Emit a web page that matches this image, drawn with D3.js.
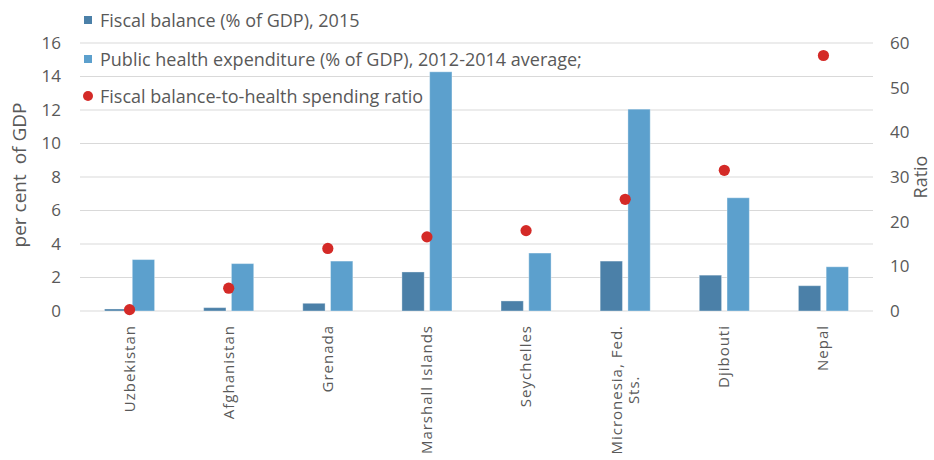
<!DOCTYPE html>
<html>
<head>
<meta charset="utf-8">
<script src="https://cdn.jsdelivr.net/npm/d3@7"></script>
<style>
  html, body { margin: 0; padding: 0; background: #fff; }
  svg { display: block; font-family: "Open Sans", "DejaVu Sans", sans-serif; }
</style>
</head>
<body>
<svg id="chart" width="934" height="460"></svg>
<script>
// Countries (x categories); "\n" splits a label onto a second line
const countries = ["Uzbekistan", "Afghanistan", "Grenada", "Marshall Islands",
  "Seychelles", "Micronesia, Fed.\nSts.", "Djibouti", "Nepal"];
// Fiscal balance (% of GDP), 2015
const fiscalBalance = [0.12, 0.2, 0.46, 2.33, 0.6, 2.98, 2.14, 1.51];
// Public health expenditure (% of GDP), 2012-2014 average
const healthSpending = [3.07, 2.83, 2.98, 14.28, 3.46, 12.05, 6.76, 2.64];
// Fiscal balance-to-health spending ratio (right axis)
const ratio = [0.3, 5.1, 14.0, 16.6, 18.0, 25.0, 31.5, 57.2];

const leftTicks = [0, 2, 4, 6, 8, 10, 12, 14, 16];
const rightTicks = [0, 10, 20, 30, 40, 50, 60];

const legendLabels = [
  "Fiscal balance (% of GDP), 2015",
  "Public health expenditure (% of GDP), 2012-2014 average;",
  "Fiscal balance-to-health spending ratio"
];

const colDark = "#4b80a8", colLight = "#5ca0cd", colRed = "#d42a27";
const textCol = "#595959", gridCol = "#d9d9d9";

const svg = d3.select("#chart");
const plot = { left: 80, right: 873, top: 43, bottom: 311 };

const x = d3.scaleBand().domain(countries).range([plot.left, plot.right]);
const yL = d3.scaleLinear().domain([0, 16]).range([plot.bottom, plot.top]);
const yR = d3.scaleLinear().domain([0, 60]).range([plot.bottom, plot.top]);

// horizontal gridlines on the left-axis ticks
svg.append("g").selectAll("line").data(leftTicks).join("line")
  .attr("x1", plot.left).attr("x2", plot.right)
  .attr("y1", d => yL(d)).attr("y2", d => yL(d))
  .attr("stroke", gridCol).attr("stroke-width", 1.2);

// left axis labels
const axL = svg.append("g").attr("transform", `translate(${plot.left},0)`)
  .call(d3.axisLeft(yL).tickValues(leftTicks).tickSize(0).tickPadding(19));
axL.select(".domain").remove();
axL.selectAll("text").attr("fill", textCol).style("font-size", "17px")
  .style("font-family", "'Open Sans', sans-serif");

// right axis labels
const axR = svg.append("g").attr("transform", `translate(${plot.right},0)`)
  .call(d3.axisRight(yR).tickValues(rightTicks).tickSize(0).tickPadding(17));
axR.select(".domain").remove();
axR.selectAll("text").attr("fill", textCol).style("font-size", "17px")
  .style("font-family", "'Open Sans', sans-serif");

// axis titles
svg.append("text").attr("transform", "translate(26,175) rotate(-90)")
  .attr("text-anchor", "middle").attr("fill", textCol).style("font-size", "19px")
  .style("white-space", "pre")
  .text("per cent  of GDP");
svg.append("text").attr("transform", "translate(927,177) rotate(-90)")
  .attr("text-anchor", "middle").attr("fill", textCol).style("font-size", "18px")
  .text("Ratio");

// bars
const barW = 0.225 * x.bandwidth();
const gap = 0.055 * x.bandwidth();
const cx = d => x(d) + x.bandwidth() / 2;

svg.append("g").selectAll("rect").data(countries).join("rect")
  .attr("x", (d, i) => cx(d) - gap / 2 - barW)
  .attr("width", barW)
  .attr("y", (d, i) => yL(fiscalBalance[i]))
  .attr("height", (d, i) => yL(0) - yL(fiscalBalance[i]))
  .attr("fill", colDark).attr("stroke", "rgba(255,255,255,0.35)").attr("stroke-width", 1);

svg.append("g").selectAll("rect").data(countries).join("rect")
  .attr("x", (d, i) => cx(d) + gap / 2)
  .attr("width", barW)
  .attr("y", (d, i) => yL(healthSpending[i]))
  .attr("height", (d, i) => yL(0) - yL(healthSpending[i]))
  .attr("fill", colLight).attr("stroke", "rgba(255,255,255,0.35)").attr("stroke-width", 1);

// ratio markers
svg.append("g").selectAll("circle").data(countries).join("circle")
  .attr("cx", d => cx(d))
  .attr("cy", (d, i) => yR(ratio[i]))
  .attr("r", 5.6)
  .attr("fill", colRed);

// category labels, rotated
const labelTop = 325;
const xl = svg.append("g").attr("fill", textCol)
  .style("font-size", "15px").style("letter-spacing", "1px");
countries.forEach(c => {
  const lines = c.split("\n");
  const t = xl.append("text").attr("text-anchor", "middle");
  lines.forEach((ln, j) => t.append("tspan").attr("x", 0)
    .attr("dy", j === 0 ? 0 : "1.15em").text(ln));
  let maxLen = 0;
  t.selectAll("tspan").each(function () { maxLen = Math.max(maxLen, this.getComputedTextLength()); });
  const lineH = 15 * 1.15;
  const off = (lines.length - 1) * lineH / 2;
  t.attr("transform",
    `translate(${cx(c) + 5 - off},${labelTop + maxLen / 2}) rotate(-90)`);
});

// legend
const leg = svg.append("g").style("font-size", "18px");
const legY = [21, 60, 97];
legendLabels.forEach((lab, i) => {
  if (i < 2) {
    leg.append("rect").attr("x", 84).attr("y", legY[i] - 5).attr("width", 8).attr("height", 8)
      .attr("fill", i === 0 ? colDark : colLight);
  } else {
    leg.append("circle").attr("cx", 88).attr("cy", legY[i] - 1).attr("r", 5).attr("fill", colRed);
  }
  leg.append("text").attr("x", 100).attr("y", legY[i]).attr("dy", "0.35em")
    .attr("fill", textCol).text(lab);
});
</script>
</body>
</html>
